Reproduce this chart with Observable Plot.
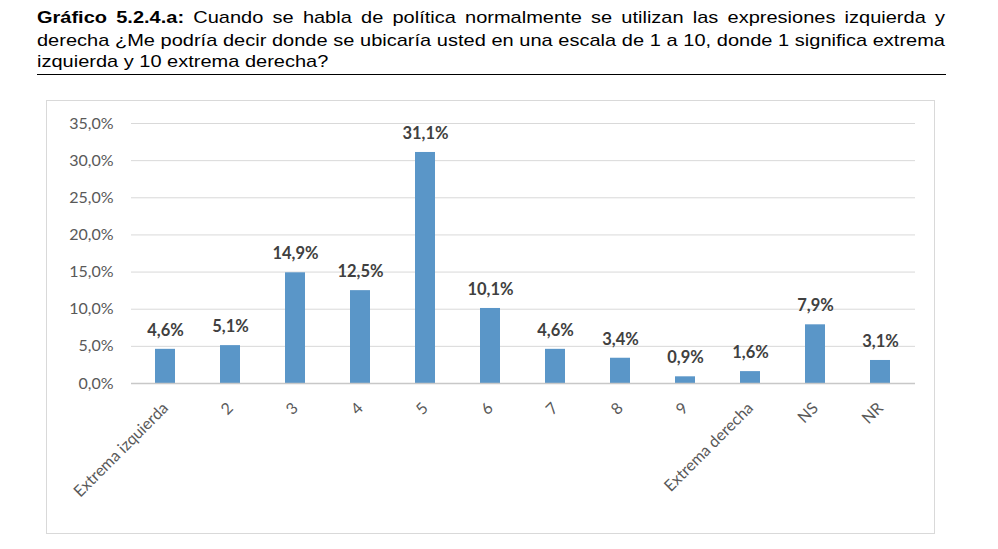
<!DOCTYPE html>
<html><head><meta charset="utf-8">
<script src="https://cdn.jsdelivr.net/npm/d3@7"></script>
<script src="https://cdn.jsdelivr.net/npm/@observablehq/plot@0.6"></script>
<style>
body{margin:0;background:#fff;width:998px;height:549px;position:relative;overflow:hidden}
#title{position:absolute;left:37px;top:7px;width:908px;font-family:"Liberation Sans",Arial,sans-serif;font-size:20px;line-height:25.6px;color:#000;transform:scaleY(0.86);transform-origin:0 0}
#title div{white-space:nowrap}
#title .j{text-align:justify;text-align-last:justify}
#rule{position:absolute;left:37px;top:74px;width:909px;height:0;border-top:1.5px solid #000}
#frame{position:absolute;left:46px;top:100px;width:887px;height:432px;border:1px solid #d9d9d9}
#chart{position:absolute;left:0;top:0}
</style></head>
<body>
<div id="title">
<div class="j"><b>Gráfico 5.2.4.a:</b> Cuando se habla de política normalmente se utilizan las expresiones izquierda y</div>
<div class="j">derecha ¿Me podría decir donde se ubicaría usted en una escala de 1 a 10, donde 1 significa extrema</div>
<div>izquierda y 10 extrema derecha?</div>
</div>
<div id="rule"></div>
<div id="frame"></div>
<div id="chart"></div>
<script>
const categories = ["Extrema izquierda","2","3","4","5","6","7","8","9","Extrema derecha","NS","NR"];
const values = [4.6, 5.1, 14.9, 12.5, 31.1, 10.1, 4.6, 3.4, 0.9, 1.6, 7.9, 3.1];
const yTicks = [0, 5, 10, 15, 20, 25, 30, 35];

const data = categories.map((c, i) => ({cat: c, v: values[i]}));
const fmt1 = d => d.toFixed(1).replace(".", ",") + "%";

const plot = Plot.plot({
  width: 998, height: 549,
  marginLeft: 131, marginRight: 83, marginTop: 123, marginBottom: 166,
  style: {fontFamily: "Lato, 'Open Sans', sans-serif", background: "transparent", color: "#595959"},
  x: {domain: categories, paddingInner: 0.69, paddingOuter: 0.345, label: null},
  y: {domain: [0, 35], label: null},
  marks: [
    Plot.gridY(yTicks, {stroke: "#d9d9d9", strokeOpacity: 1, strokeWidth: 1}),
    Plot.axisY(yTicks, {tickSize: 0, tickPadding: 18, tickFormat: fmt1, fontSize: 16, fill: "#595959", label: null}),
    Plot.barY(data, {x: "cat", y: "v", fill: "#5a96c8"}),
    Plot.ruleY([0], {stroke: "#c8c8c8", strokeWidth: 1.5}),
    Plot.axisX({tickSize: 0, tickPadding: 22, tickRotate: -45, fontSize: 16, fill: "#595959", label: null}),
    Plot.text(data, {x: "cat", y: "v", text: d => fmt1(d.v), dy: -19, fontWeight: "bold", fontSize: 16.5, fill: "#404040"})
  ]
});
document.getElementById("chart").appendChild(plot);
</script>
</body></html>
